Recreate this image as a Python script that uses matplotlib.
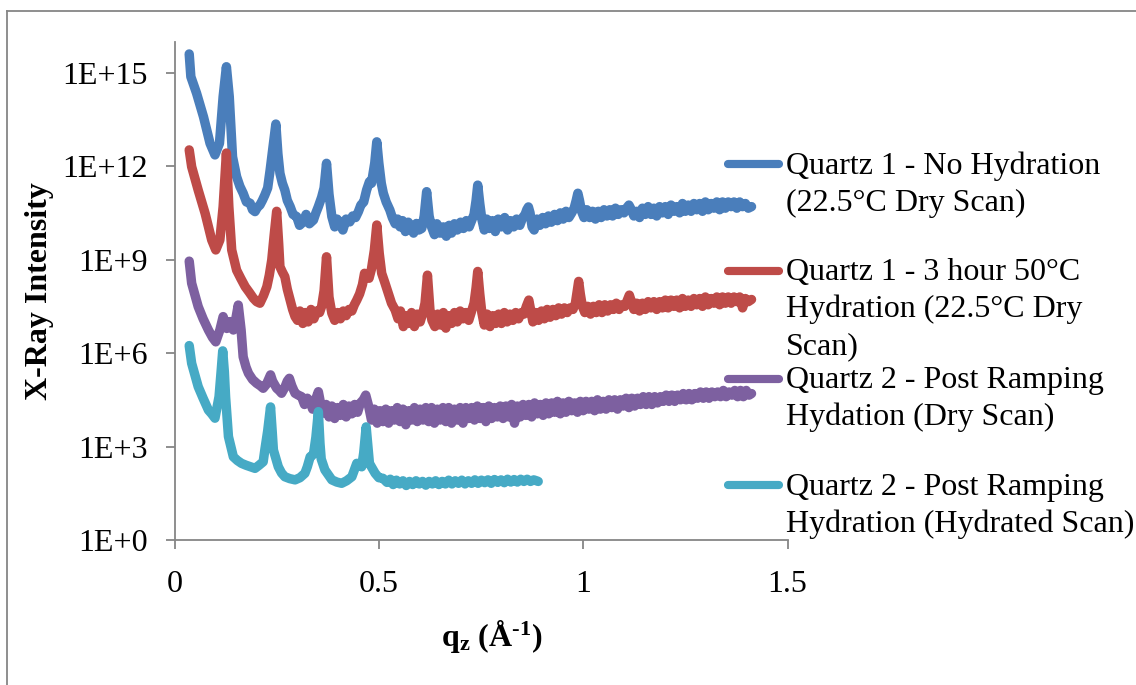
import numpy as np
import matplotlib
matplotlib.use("Agg")
import matplotlib.pyplot as plt
from matplotlib.lines import Line2D

plt.rcParams['font.family'] = ['Liberation Serif', 'DejaVu Serif']
plt.rcParams['mathtext.fontset'] = 'custom'
plt.rcParams['mathtext.rm'] = 'Liberation Serif'
plt.rcParams['mathtext.bf'] = 'Liberation Serif:bold'
plt.rcParams['mathtext.it'] = 'Liberation Serif:italic'

# ---------------- data (q in 1/Angstrom, log10 of intensity) ----------------
q1_none = [0.036, 0.040, 0.054, 0.071, 0.087, 0.099, 0.110, 0.119, 0.127, 0.134, 0.142, 0.152, 0.160, 0.168,
           0.176, 0.185, 0.191, 0.197, 0.203, 0.209, 0.215, 0.221, 0.228, 0.234, 0.240, 0.248, 0.253, 0.258,
           0.264, 0.270, 0.276, 0.283, 0.290, 0.299, 0.306, 0.315, 0.322, 0.330, 0.340, 0.346, 0.352, 0.360,
           0.366, 0.372, 0.378, 0.385, 0.392, 0.398, 0.405, 0.412, 0.420, 0.429, 0.436, 0.443, 0.450, 0.456,
           0.463, 0.470, 0.477, 0.482, 0.490, 0.495, 0.500, 0.506, 0.511, 0.518, 0.527, 0.533, 0.540, 0.546,
           0.552, 0.558, 0.565, 0.572, 0.578, 0.585, 0.592, 0.598, 0.605, 0.611, 0.617, 0.623, 0.629, 0.636,
           0.642, 0.650, 0.658, 0.665, 0.672, 0.678, 0.685, 0.692, 0.700, 0.707, 0.714, 0.721, 0.727, 0.733,
           0.738, 0.742, 0.747, 0.752, 0.758, 0.764, 0.771, 0.778, 0.785, 0.792, 0.800, 0.808, 0.815, 0.822,
           0.830, 0.837, 0.845, 0.852, 0.858, 0.862, 0.866, 0.870, 0.875, 0.880, 0.887, 0.894, 0.901, 0.908,
           0.915, 0.922, 0.930, 0.937, 0.944, 0.951, 0.958, 0.965, 0.972, 0.978, 0.983, 0.987, 0.991, 0.996,
           1.002, 1.009, 1.016, 1.023, 1.030, 1.037, 1.044, 1.051, 1.058, 1.065, 1.072, 1.079, 1.086, 1.093,
           1.100, 1.106, 1.112, 1.118, 1.124, 1.131, 1.138, 1.145, 1.152, 1.159, 1.166, 1.173, 1.180, 1.187,
           1.194, 1.201, 1.208, 1.215, 1.222, 1.229, 1.236, 1.243, 1.250, 1.257, 1.264, 1.271, 1.278, 1.285,
           1.292, 1.299, 1.306, 1.313, 1.320, 1.327, 1.334, 1.341, 1.348, 1.355, 1.362, 1.369, 1.376, 1.383,
           1.390, 1.397, 1.404, 1.412]
log_q1_none = [15.60, 14.87, 14.34, 13.58, 12.73, 12.36, 12.73, 14.23, 15.19, 14.23, 12.30, 11.66, 11.35, 11.13,
               10.85, 10.81, 10.60, 10.54, 10.68, 10.75, 10.90, 11.07, 11.30, 11.87, 12.50, 13.35, 12.40, 11.77,
               11.45, 11.23, 10.90, 10.70, 10.45, 10.38, 10.10, 10.21, 10.45, 10.15, 10.27, 10.50, 10.70, 11.00,
               11.30, 12.09, 11.10, 10.38, 10.05, 10.30, 10.16, 9.95, 10.30, 10.21, 10.40, 10.35, 10.54, 10.75,
               10.85, 11.23, 11.50, 11.45, 12.10, 12.78, 12.10, 11.45, 11.13, 10.85, 10.59, 10.35, 10.15, 10.30,
               10.05, 10.25, 9.90, 10.20, 10.05, 9.85, 10.16, 9.95, 10.00, 10.40, 11.18, 10.40, 10.05, 9.80,
               10.15, 9.85, 10.05, 9.75, 10.10, 9.85, 10.15, 9.95, 10.20, 10.00, 10.25, 10.05, 10.25, 10.45,
               10.90, 11.39, 10.80, 10.30, 9.95, 10.30, 10.00, 10.25, 9.90, 10.30, 10.05, 10.35, 9.95, 10.25,
               10.05, 10.30, 10.10, 10.35, 10.45, 10.60, 10.69, 10.50, 10.05, 9.95, 10.30, 10.10, 10.35, 10.15,
               10.40, 10.20, 10.45, 10.25, 10.50, 10.30, 10.55, 10.35, 10.50, 10.65, 10.90, 11.13, 10.90, 10.55,
               10.35, 10.60, 10.35, 10.55, 10.30, 10.55, 10.35, 10.60, 10.40, 10.60, 10.40, 10.65, 10.45, 10.60,
               10.50, 10.65, 10.75, 10.60, 10.40, 10.55, 10.35, 10.65, 10.45, 10.70, 10.45, 10.65, 10.40, 10.70,
               10.50, 10.70, 10.45, 10.75, 10.55, 10.70, 10.50, 10.80, 10.55, 10.75, 10.55, 10.80, 10.60, 10.80,
               10.55, 10.85, 10.60, 10.80, 10.65, 10.85, 10.60, 10.85, 10.65, 10.85, 10.70, 10.85, 10.65, 10.85,
               10.70, 10.80, 10.65, 10.70]

q1_hyd = [0.036, 0.042, 0.058, 0.075, 0.091, 0.101, 0.111, 0.119, 0.127, 0.133, 0.140, 0.152, 0.162, 0.173,
          0.183, 0.193, 0.201, 0.209, 0.218, 0.226, 0.232, 0.238, 0.244, 0.250, 0.255, 0.258, 0.264, 0.270,
          0.276, 0.283, 0.289, 0.295, 0.301, 0.307, 0.314, 0.320, 0.327, 0.334, 0.341, 0.348, 0.355, 0.360,
          0.366, 0.372, 0.378, 0.385, 0.392, 0.399, 0.406, 0.413, 0.420, 0.427, 0.434, 0.440, 0.446, 0.453,
          0.460, 0.465, 0.470, 0.476, 0.482, 0.489, 0.495, 0.501, 0.507, 0.515, 0.523, 0.531, 0.540, 0.547,
          0.553, 0.560, 0.566, 0.573, 0.580, 0.587, 0.594, 0.601, 0.608, 0.613, 0.619, 0.625, 0.630, 0.637,
          0.644, 0.651, 0.658, 0.664, 0.671, 0.678, 0.685, 0.692, 0.699, 0.706, 0.713, 0.720, 0.727, 0.733,
          0.738, 0.742, 0.747, 0.752, 0.758, 0.765, 0.772, 0.779, 0.786, 0.793, 0.800, 0.807, 0.814, 0.821,
          0.828, 0.835, 0.842, 0.849, 0.855, 0.861, 0.867, 0.872, 0.877, 0.884, 0.891, 0.898, 0.905, 0.912,
          0.919, 0.926, 0.933, 0.940, 0.947, 0.954, 0.961, 0.968, 0.975, 0.981, 0.985, 0.989, 0.993, 0.998,
          1.004, 1.011, 1.018, 1.025, 1.032, 1.039, 1.046, 1.053, 1.060, 1.067, 1.074, 1.081, 1.088, 1.095,
          1.102, 1.108, 1.113, 1.118, 1.124, 1.131, 1.138, 1.145, 1.152, 1.159, 1.166, 1.173, 1.180, 1.187,
          1.194, 1.201, 1.208, 1.215, 1.222, 1.229, 1.236, 1.243, 1.250, 1.257, 1.264, 1.271, 1.278, 1.285,
          1.292, 1.299, 1.306, 1.313, 1.320, 1.327, 1.334, 1.341, 1.348, 1.355, 1.362, 1.369, 1.376, 1.383,
          1.390, 1.397, 1.404, 1.412]
log_q1_hyd = [12.52, 11.98, 11.23, 10.48, 9.63, 9.31, 9.63, 10.70, 12.42, 10.70, 9.31, 8.66, 8.40, 8.13,
              7.95, 7.76, 7.65, 7.60, 7.85, 8.13, 8.50, 8.99, 9.80, 10.55, 9.50, 8.77, 8.60, 8.45,
              8.05, 7.70, 7.40, 7.17, 7.05, 7.35, 6.95, 7.30, 7.00, 7.40, 7.10, 7.35, 7.30, 7.50,
              8.00, 9.09, 7.80, 7.28, 7.05, 7.30, 7.10, 7.35, 7.20, 7.40, 7.35, 7.55, 7.70, 7.90,
              8.20, 8.56, 8.50, 8.40, 8.70, 9.30, 10.11, 9.20, 8.56, 8.25, 7.92, 7.60, 7.38, 7.10,
              7.35, 6.85, 7.20, 6.95, 7.30, 6.85, 7.25, 7.00, 7.30, 7.60, 8.50, 7.40, 7.05, 6.85,
              7.25, 6.90, 7.30, 6.80, 7.20, 6.95, 7.30, 7.00, 7.35, 7.10, 7.30, 7.05, 7.35, 7.60,
              8.10, 8.62, 7.90, 7.30, 6.90, 7.25, 6.85, 7.20, 6.95, 7.25, 6.95, 7.30, 7.00, 7.25,
              7.05, 7.30, 7.10, 7.30, 7.25, 7.50, 7.70, 7.35, 7.00, 7.30, 7.05, 7.35, 7.10, 7.40,
              7.15, 7.40, 7.20, 7.45, 7.25, 7.45, 7.30, 7.45, 7.40, 7.60, 7.95, 8.30, 7.90, 7.50,
              7.30, 7.50, 7.25, 7.50, 7.30, 7.55, 7.30, 7.55, 7.35, 7.55, 7.40, 7.60, 7.40, 7.55,
              7.50, 7.70, 7.86, 7.65, 7.40, 7.60, 7.35, 7.60, 7.40, 7.65, 7.45, 7.65, 7.40, 7.65,
              7.45, 7.70, 7.45, 7.70, 7.50, 7.70, 7.45, 7.75, 7.50, 7.70, 7.50, 7.75, 7.55, 7.75,
              7.50, 7.80, 7.55, 7.75, 7.60, 7.80, 7.55, 7.80, 7.60, 7.80, 7.60, 7.80, 7.65, 7.80,
              7.45, 7.75, 7.65, 7.72]

q2_dry = [0.036, 0.042, 0.058, 0.070, 0.083, 0.093, 0.101, 0.111, 0.119, 0.128, 0.136, 0.144, 0.150, 0.156,
          0.163, 0.168, 0.175, 0.181, 0.191, 0.201, 0.210, 0.217, 0.225, 0.230, 0.235, 0.240, 0.250, 0.256,
          0.262, 0.270, 0.276, 0.281, 0.287, 0.295, 0.303, 0.311, 0.318, 0.325, 0.332, 0.338, 0.345, 0.352,
          0.358, 0.365, 0.371, 0.378, 0.385, 0.392, 0.399, 0.406, 0.413, 0.420, 0.427, 0.434, 0.441, 0.448,
          0.455, 0.462, 0.468, 0.475, 0.482, 0.489, 0.496, 0.503, 0.510, 0.517, 0.524, 0.531, 0.538, 0.545,
          0.552, 0.559, 0.566, 0.573, 0.580, 0.587, 0.594, 0.601, 0.608, 0.615, 0.622, 0.629, 0.636, 0.643,
          0.650, 0.657, 0.664, 0.671, 0.678, 0.685, 0.692, 0.699, 0.706, 0.713, 0.720, 0.727, 0.734, 0.741,
          0.748, 0.755, 0.762, 0.769, 0.776, 0.783, 0.790, 0.797, 0.804, 0.811, 0.818, 0.825, 0.832, 0.839,
          0.846, 0.853, 0.860, 0.867, 0.874, 0.881, 0.888, 0.895, 0.902, 0.909, 0.916, 0.923, 0.930, 0.937,
          0.944, 0.951, 0.958, 0.965, 0.972, 0.979, 0.986, 0.993, 1.000, 1.007, 1.014, 1.021, 1.028, 1.035,
          1.042, 1.049, 1.056, 1.063, 1.070, 1.077, 1.084, 1.091, 1.098, 1.105, 1.112, 1.119, 1.126, 1.133,
          1.140, 1.147, 1.154, 1.161, 1.168, 1.175, 1.182, 1.189, 1.196, 1.203, 1.210, 1.217, 1.224, 1.231,
          1.238, 1.245, 1.252, 1.259, 1.266, 1.273, 1.280, 1.287, 1.294, 1.301, 1.308, 1.315, 1.322, 1.329,
          1.336, 1.343, 1.350, 1.357, 1.364, 1.371, 1.378, 1.385, 1.392, 1.399, 1.406, 1.412]
log_q2_dry = [8.95, 8.24, 7.49, 7.10, 6.74, 6.50, 6.36, 6.74, 7.17, 6.79, 7.01, 6.74, 7.10, 7.54,
              6.74, 5.88, 5.55, 5.35, 5.15, 5.03, 4.95, 4.87, 5.00, 5.15, 5.30, 5.10, 4.87, 4.80,
              4.71, 4.90, 5.10, 5.19, 4.95, 4.71, 4.65, 4.60, 4.35, 4.55, 4.44, 4.20, 4.50, 4.76,
              4.35, 4.07, 4.35, 3.95, 4.30, 3.90, 4.25, 4.00, 4.35, 3.95, 4.30, 4.05, 4.35, 4.10,
              4.40, 4.50, 4.65, 4.30, 3.85, 4.20, 3.75, 4.15, 3.80, 4.20, 3.75, 4.15, 3.85, 4.25,
              3.80, 4.20, 3.70, 4.15, 3.85, 4.25, 3.80, 4.20, 3.85, 4.25, 3.80, 4.25, 3.75, 4.20,
              3.85, 4.25, 3.80, 4.25, 3.75, 4.20, 3.85, 4.25, 3.75, 4.25, 3.90, 4.25, 3.85, 4.30,
              3.90, 4.25, 3.80, 4.30, 3.90, 4.25, 3.95, 4.30, 3.90, 4.30, 3.95, 4.35, 3.75, 4.30,
              3.95, 4.35, 4.00, 4.35, 3.95, 4.40, 4.05, 4.35, 4.00, 4.40, 4.05, 4.40, 4.10, 4.45,
              4.05, 4.40, 4.10, 4.45, 4.15, 4.40, 4.10, 4.45, 4.15, 4.45, 4.20, 4.45, 4.15, 4.50,
              4.20, 4.45, 4.20, 4.50, 4.25, 4.50, 4.20, 4.50, 4.30, 4.55, 4.25, 4.55, 4.30, 4.55,
              4.35, 4.60, 4.35, 4.60, 4.35, 4.60, 4.40, 4.60, 4.45, 4.65, 4.45, 4.65, 4.45, 4.65,
              4.50, 4.70, 4.50, 4.70, 4.50, 4.70, 4.55, 4.75, 4.55, 4.75, 4.55, 4.75, 4.60, 4.75,
              4.60, 4.80, 4.60, 4.75, 4.65, 4.80, 4.60, 4.80, 4.60, 4.80, 4.65, 4.70]

q2_wet = [0.036, 0.042, 0.058, 0.070, 0.083, 0.091, 0.099, 0.109, 0.114, 0.118, 0.122, 0.125, 0.132, 0.144,
          0.154, 0.164, 0.175, 0.186, 0.197, 0.207, 0.217, 0.221, 0.228, 0.235, 0.239, 0.242, 0.254, 0.262,
          0.270, 0.282, 0.295, 0.307, 0.319, 0.325, 0.332, 0.340, 0.346, 0.352, 0.356, 0.359, 0.368, 0.385,
          0.397, 0.409, 0.421, 0.434, 0.446, 0.458, 0.463, 0.469, 0.474, 0.477, 0.491, 0.500, 0.510, 0.520,
          0.528, 0.535, 0.543, 0.551, 0.559, 0.567, 0.575, 0.583, 0.591, 0.599, 0.607, 0.615, 0.623, 0.631,
          0.639, 0.647, 0.655, 0.663, 0.671, 0.679, 0.687, 0.695, 0.703, 0.711, 0.719, 0.727, 0.735, 0.743,
          0.751, 0.759, 0.767, 0.775, 0.783, 0.791, 0.799, 0.807, 0.815, 0.823, 0.831, 0.839, 0.847, 0.855,
          0.863, 0.871, 0.879, 0.886, 0.890]
log_q2_wet = [6.24, 5.67, 4.92, 4.55, 4.17, 4.05, 3.91, 4.60, 5.40, 6.07, 5.40, 4.60, 3.32, 2.67,
              2.55, 2.46, 2.40, 2.35, 2.30, 2.40, 2.51, 2.89, 3.50, 4.27, 3.50, 2.89, 2.35, 2.15,
              2.03, 1.97, 1.93, 2.00, 2.14, 2.35, 2.67, 2.75, 3.30, 4.12, 3.10, 2.60, 2.25, 1.93,
              1.86, 1.82, 1.90, 2.03, 2.46, 2.35, 2.80, 3.63, 2.90, 2.46, 2.14, 2.00, 1.98, 1.85,
              1.95, 1.78, 1.92, 1.80, 1.90, 1.75, 1.88, 1.78, 1.90, 1.80, 1.88, 1.76, 1.88, 1.80,
              1.90, 1.78, 1.88, 1.80, 1.92, 1.80, 1.90, 1.82, 1.92, 1.80, 1.90, 1.82, 1.93, 1.82,
              1.92, 1.84, 1.93, 1.82, 1.94, 1.85, 1.93, 1.84, 1.95, 1.86, 1.94, 1.86, 1.95, 1.88,
              1.95, 1.88, 1.93, 1.90, 1.88]

series_labels = [
    ["Quartz 1 - No Hydration", "(22.5°C Dry Scan)"],
    ["Quartz 1 - 3 hour 50°C", "Hydration (22.5°C Dry", "Scan)"],
    ["Quartz 2 - Post Ramping", "Hydation (Dry Scan)"],
    ["Quartz 2 - Post Ramping", "Hydration (Hydrated Scan)"],
]
colors = ["#4A7EBB", "#BE4B48", "#7D60A0", "#46AAC5"]

y_tick_exponents = [0, 3, 6, 9, 12, 15]
y_tick_labels = ["1E+0", "1E+3", "1E+6", "1E+9", "1E+12", "1E+15"]
x_ticks = [0, 0.5, 1, 1.5]
x_tick_labels = ["0", "0.5", "1", "1.5"]

# ---------------- figure ----------------
W, H = 1136, 685
FS = 23
fig = plt.figure(figsize=(W / 100, H / 100), dpi=100)
fig.patch.set_facecolor("white")

ax = fig.add_axes([174.5 / W, 1 - 540 / H, 613 / W, 498.5 / H])
ax.set_yscale("log")
ax.set_xlim(0, 1.5)
ax.set_ylim(1, 1e16)

lw = 6.8
all_q = [q1_none, q1_hyd, q2_dry, q2_wet]
all_l = [log_q1_none, log_q1_hyd, log_q2_dry, log_q2_wet]
for qs, ls, c in zip(all_q, all_l, colors):
    ax.plot(qs, 10.0 ** np.array(ls), color=c, lw=lw, solid_capstyle="round",
            solid_joinstyle="round", clip_on=False)

axis_col = "#868686"
for s in ["top", "right"]:
    ax.spines[s].set_visible(False)
for s in ["left", "bottom"]:
    ax.spines[s].set_color(axis_col)
    ax.spines[s].set_linewidth(1.3)

ax.set_yticks([10.0 ** e for e in y_tick_exponents])
ax.set_yticklabels(y_tick_labels)
ax.yaxis.set_minor_locator(matplotlib.ticker.NullLocator())
ax.set_xticks(x_ticks)
ax.set_xticklabels(x_tick_labels)
ax.tick_params(axis="both", direction="out", length=6.5, width=1.3, color=axis_col,
               labelsize=FS, labelcolor="black")
ax.tick_params(axis="y", pad=13)
ax.tick_params(axis="x", pad=15)

ax.set_ylabel("X-Ray Intensity", fontsize=FS, fontweight="bold")
ax.yaxis.set_label_coords((54 - 174.5) / 613, 0.5)
ax.set_xlabel(r"$\mathbf{q_z}$ $\mathbf{(Å^{\text{-}1})}$", fontsize=FS)
ax.xaxis.set_label_coords((492 - 174.5) / 613, (540 - 618) / 498.5)

# outer chart-area border (top and left edges visible)
fig.add_artist(Line2D([7 / W, 1.0], [1 - 11 / H, 1 - 11 / H], transform=fig.transFigure,
                      color=axis_col, lw=1.3))
fig.add_artist(Line2D([7 / W, 7 / W], [0.0, 1 - 11 / H], transform=fig.transFigure,
                      color=axis_col, lw=1.3))

# legend (manual, Excel style: marker aligned with first text line)
marker_y = [163.7, 271.4, 379.0, 485.0]
first_base = [173.8, 279.8, 387.6, 495.3]
line_step = 37.0
for c, labs, my, fb in zip(colors, series_labels, marker_y, first_base):
    fig.add_artist(Line2D([727.6 / W, 778.5 / W], [1 - my / H, 1 - my / H], transform=fig.transFigure,
                          color=c, lw=5.9, solid_capstyle="round"))
    for k, t in enumerate(labs):
        fig.text(786 / W, 1 - (fb + k * line_step) / H, t, fontsize=FS, va="baseline", ha="left")

fig.savefig("out.png", dpi=100, facecolor="white")
